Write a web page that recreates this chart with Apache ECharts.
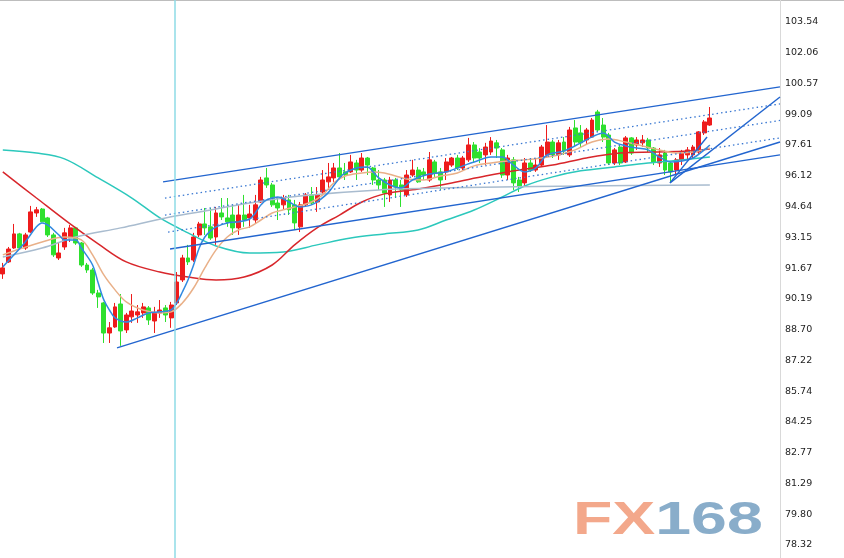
<!DOCTYPE html>
<html><head><meta charset="utf-8">
<script src="https://cdn.jsdelivr.net/npm/echarts@6/dist/echarts.min.js"></script>
<style>html,body{margin:0;padding:0;background:#fff}#c{width:844px;height:558px}</style>
</head><body><div id="c"></div>
<script>
// ---- data ----
const slotCount = 139; // 127 candles + empty room on the right
const categories = Array.from({length: slotCount}, (_, i) => 'D' + (i + 1));
const opens  = [91.39,91.97,92.64,93.32,92.64,93.41,94.33,94.52,94.09,93.27,92.16,92.69,93.12,93.61,92.88,91.82,91.58,90.47,89.99,88.54,88.83,89.94,88.69,89.32,89.41,89.51,89.75,89.12,89.51,89.75,89.27,89.99,91.10,92.16,92.06,93.27,93.80,93.66,93.17,94.33,94.09,94.23,93.61,94.23,94.09,93.99,94.86,96.02,95.68,94.81,94.72,94.96,94.72,93.66,94.72,95.20,94.86,95.34,95.83,96.02,96.50,96.31,96.31,96.74,96.40,96.98,96.50,95.92,95.92,95.20,95.92,95.68,95.20,96.16,96.40,96.31,95.92,96.79,96.31,96.31,96.64,96.98,96.50,96.89,97.61,97.27,97.13,97.27,97.71,97.37,96.16,96.89,95.92,95.78,96.74,96.40,96.64,97.13,97.75,97.13,97.75,97.13,98.43,98.19,97.85,97.99,99.20,98.57,98.09,96.74,97.51,96.79,97.95,97.61,97.71,97.85,97.46,96.74,97.22,96.74,96.40,96.89,97.13,97.13,97.27,98.19,98.57];
const closes = [91.68,92.59,93.32,92.64,93.27,94.38,94.48,93.90,93.27,92.31,92.40,93.37,93.61,92.88,91.82,91.58,90.47,90.28,88.54,88.79,89.80,88.64,89.41,89.60,89.56,89.80,89.17,89.51,89.65,89.41,89.89,91.00,92.16,91.97,93.17,93.80,93.61,93.12,94.33,94.14,93.90,93.61,94.23,93.99,94.28,94.72,95.92,95.68,94.72,94.57,95.05,94.48,93.85,94.72,95.20,94.81,95.20,95.92,96.07,96.50,96.07,96.16,96.79,96.40,96.98,96.64,95.92,95.68,95.29,95.92,95.58,95.44,96.16,96.40,95.83,96.16,96.89,96.26,95.92,96.79,96.98,96.50,96.98,97.61,96.98,96.98,97.51,97.80,97.46,96.16,96.98,95.78,95.63,96.74,96.40,96.64,97.51,97.75,97.13,97.71,97.32,98.33,97.75,97.71,98.33,98.81,98.33,97.99,96.74,97.37,96.74,97.95,97.22,97.85,97.85,97.46,96.79,97.13,96.40,96.31,96.89,97.22,97.37,97.51,98.24,98.72,98.91];
const lows   = [91.15,91.92,92.60,92.59,92.55,93.37,94.14,93.88,93.17,92.21,92.06,92.55,92.93,92.79,91.73,91.44,90.38,89.75,88.06,88.06,88.79,87.92,88.54,89.03,89.03,89.27,88.93,88.54,89.27,89.07,88.79,89.89,91.00,91.82,91.97,93.17,93.27,93.03,92.79,93.99,93.66,93.27,93.27,93.66,93.61,93.85,94.81,95.54,94.62,93.99,94.48,94.23,93.51,93.41,94.62,94.72,94.38,95.20,95.44,95.83,95.92,95.92,96.26,95.92,96.31,96.16,95.68,95.44,94.62,94.86,95.05,94.62,95.10,96.07,95.78,95.92,95.83,96.07,95.44,95.92,96.55,96.40,96.40,96.79,96.79,96.74,96.64,97.13,96.98,96.02,95.92,95.44,95.34,95.58,96.31,96.31,96.55,96.98,96.98,96.89,97.13,97.03,97.51,97.46,97.61,97.95,98.24,97.75,96.64,96.64,96.64,96.74,97.13,97.37,97.51,97.27,96.64,96.55,96.16,95.78,96.16,96.64,96.89,96.98,97.13,98.09,98.53];
const highs  = [91.92,92.69,93.80,93.37,93.37,94.67,94.62,94.57,94.14,93.37,92.93,93.61,93.75,93.66,92.93,91.92,91.68,90.62,90.04,89.07,89.99,90.42,89.51,90.42,89.89,89.99,89.84,89.80,90.13,89.89,90.04,91.48,92.31,92.79,93.37,93.90,94.57,94.57,94.62,95.05,95.05,94.72,94.72,95.20,94.72,95.20,96.07,96.50,95.78,95.05,95.20,95.20,94.96,94.86,95.29,95.58,95.58,96.40,96.74,96.74,97.22,96.74,97.13,96.89,97.22,97.03,96.55,96.40,96.02,96.07,96.02,95.92,96.40,96.89,96.55,96.50,97.27,96.89,96.50,96.98,97.03,97.13,97.08,97.95,97.75,97.46,97.71,97.99,97.85,97.46,97.13,97.03,96.07,96.98,96.98,96.98,97.61,98.57,97.85,97.85,97.99,98.48,98.81,98.57,98.43,98.91,99.30,98.91,98.19,97.46,97.61,98.04,97.99,97.99,98.09,97.95,97.51,97.46,97.37,96.79,96.98,97.37,97.51,97.61,98.28,98.81,99.44];
const yTickLabels = [78.32,79.80,81.29,82.77,84.25,85.74,87.22,88.70,90.19,91.67,93.15,94.64,96.12,97.61,99.09,100.57,102.06,103.54];
// moving averages: [candle index, price]
const maBlue = [[0,91.73],[2,92.31],[4,92.93],[6,93.66],[7,93.85],[8,93.75],[10,93.27],[11,93.03],[13,93.03],[14,92.64],[16,91.82],[17,90.95],[18,90.14],[19,89.65],[20,89.27],[22,89.07],[24,89.27],[26,89.51],[28,89.56],[30,89.65],[31,89.99],[32,90.52],[33,91.10],[34,91.82],[35,92.64],[36,93.17],[37,93.46],[38,93.66],[40,93.85],[42,93.90],[44,94.04],[45,94.33],[46,94.72],[47,94.96],[49,95.10],[51,94.86],[53,94.62],[55,94.72],[56,94.86],[58,95.31],[60,96.02],[61,96.26],[63,96.50],[65,96.55],[66,96.31],[67,96.02],[69,95.68],[71,95.54],[73,95.92],[76,96.21],[79,96.31],[82,96.60],[84,96.79],[87,97.03],[89,97.03],[91,96.64],[93,96.31],[95,96.50],[97,97.13],[100,97.32],[103,97.71],[105,98.00],[107,98.19],[109,97.75],[111,97.56],[113,97.46],[115,97.37],[117,97.03],[119,96.79],[121,96.84],[123,96.98],[125,97.37],[126,97.61]];
const maTan = [[0,92.31],[3,92.59],[7,92.93],[11,93.17],[14,93.03],[16,92.31],[18,91.34],[20,90.62],[22,90.04],[25,89.65],[28,89.51],[30,89.56],[32,89.99],[34,90.71],[36,91.68],[38,92.55],[40,93.17],[42,93.51],[44,93.66],[46,93.99],[48,94.33],[50,94.48],[52,94.62],[55,94.86],[57,95.20],[59,95.78],[61,96.11],[64,96.26],[66,96.31],[68,96.26],[70,96.11],[72,95.97],[75,95.92],[78,96.11],[81,96.26],[84,96.60],[87,96.74],[90,96.84],[93,96.89],[96,96.98],[99,97.13],[102,97.37],[105,97.75],[108,97.90],[111,97.75],[114,97.56],[117,97.37],[120,97.22],[123,97.27],[126,97.46]];
const maGray = [[0,92.21],[7,92.64],[13,93.17],[21,93.61],[29,94.09],[35,94.38],[44,94.81],[53,95.15],[67,95.44],[80,95.54],[103,95.63],[126,95.68]];
const maRed = [[0,96.31],[6,95.05],[12,93.80],[17,92.84],[22,91.97],[28,91.48],[33,91.24],[38,91.10],[43,91.24],[48,91.82],[52,92.79],[56,93.61],[60,94.23],[64,94.86],[68,95.25],[74,95.49],[80,95.78],[86,96.11],[92,96.40],[98,96.64],[104,96.98],[110,97.22],[116,97.27],[122,97.32],[126,97.42]];
const maTeal = [[0,97.37],[6,97.22],[11,96.94],[17,96.02],[23,95.05],[28,94.09],[33,93.37],[38,92.74],[44,92.40],[50,92.45],[56,92.79],[62,93.12],[68,93.32],[74,93.51],[79,93.99],[84,94.47],[89,95.10],[93,95.63],[98,96.07],[103,96.36],[109,96.55],[115,96.74],[121,96.89],[126,97.03]];
// drawn trend lines: [[startIndex, startPrice], [endIndex, endPrice]]
const solidTrendLines = [
  [[28.55,95.83],[138.5,100.41]],
  [[29.8,92.59],[138.5,97.13]],
  [[20.35,87.82],[138.5,97.75]],
  [[118.9,95.78],[138.5,99.92]],
  [[118.9,95.78],[125.5,97.99]]
];
const dottedTrendLines = [
  [[28.9,95.05],[138.5,99.59]],
  [[28.9,94.23],[138.5,98.79]],
  [[29.45,93.41],[138.5,97.95]]
];
const cursorIndex = 30.7;

// ---- chart ----
const chart = echarts.init(document.getElementById('c'), null, {renderer: 'canvas'});
const candleData = opens.map((o, i) => [o, closes[i], lows[i], highs[i]]);
const UP = '#ee1c1c', DOWN = '#2ee02e';
function maSeries(name, data, color, z) {
  return {name, type: 'line', xAxisIndex: 1, data, smooth: 0.35, showSymbol: false, symbol: 'none',
    lineStyle: {color, width: 1.5}, z, silent: true};
}
const series = [
  {type: 'candlestick', xAxisIndex: 0, data: candleData, barWidth: 4.4, z: 2,
   itemStyle: {color: UP, color0: DOWN, borderColor: UP, borderColor0: DOWN, borderWidth: 1}},
  maSeries('maTeal', maTeal, '#2cc8bc', 3),
  maSeries('maRed', maRed, '#d8262b', 3),
  maSeries('maGray', maGray, '#a9bccf', 3),
  maSeries('maTan', maTan, '#e9b088', 3),
  maSeries('maBlue', maBlue, '#3189e0', 3)
];
solidTrendLines.forEach((pts) => series.push({
  type: 'line', xAxisIndex: 1, data: pts, symbol: 'none', silent: true, z: 4,
  lineStyle: {color: '#2265cf', width: 1.4}
}));
dottedTrendLines.forEach((pts) => series.push({
  type: 'line', xAxisIndex: 1, data: pts, symbol: 'none', silent: true, z: 4,
  lineStyle: {color: '#3a78d2', width: 1.3, type: [1.5, 3]}
}));
series.push({
  type: 'line', xAxisIndex: 1, data: [], symbol: 'none', silent: true, z: 1,
  markLine: {symbol: 'none', silent: true, label: {show: false},
    lineStyle: {color: '#8edbe6', width: 1.5, type: 'solid'},
    data: [{xAxis: cursorIndex}]}
});

chart.setOption({
  animation: false,
  backgroundColor: '#ffffff',
  grid: {left: 0, right: 64, top: 0, bottom: 0, containLabel: false},
  xAxis: [
    {type: 'category', data: categories, boundaryGap: true, show: false},
    {type: 'value', min: -0.5, max: slotCount - 0.5, show: false}
  ],
  yAxis: {
    type: 'value', position: 'right', min: 77.69, max: 104.60, scale: true,
    splitLine: {show: false},
    axisTick: {show: false},
    axisLine: {show: true, onZero: false, lineStyle: {color: '#d9d9d9', width: 1}},
    axisLabel: {show: true, customValues: yTickLabels, margin: 5, color: '#222',
      fontFamily: 'DejaVu Sans', fontSize: 9.5, formatter: v => Number(v).toFixed(2)}
  },
  graphic: [
    {type: 'line', silent: true, shape: {x1: 0, y1: 0.5, x2: 844, y2: 0.5}, style: {stroke: '#bdbdbd', lineWidth: 1}},
    {type: 'text', silent: true, x: 573, y: 498, scaleX: 1.4, originX: 0,
     style: {text: '{a|FX}{b|168}', textVerticalAlign: 'top',
       rich: {
         a: {fontFamily: 'Liberation Sans', fontWeight: 'bold', fontSize: 46, fill: '#f3a88b', color: '#f3a88b'},
         b: {fontFamily: 'Liberation Sans', fontWeight: 'bold', fontSize: 46, fill: '#89adca', color: '#89adca'}
       }}}
  ],
  series
});
</script></body></html>
